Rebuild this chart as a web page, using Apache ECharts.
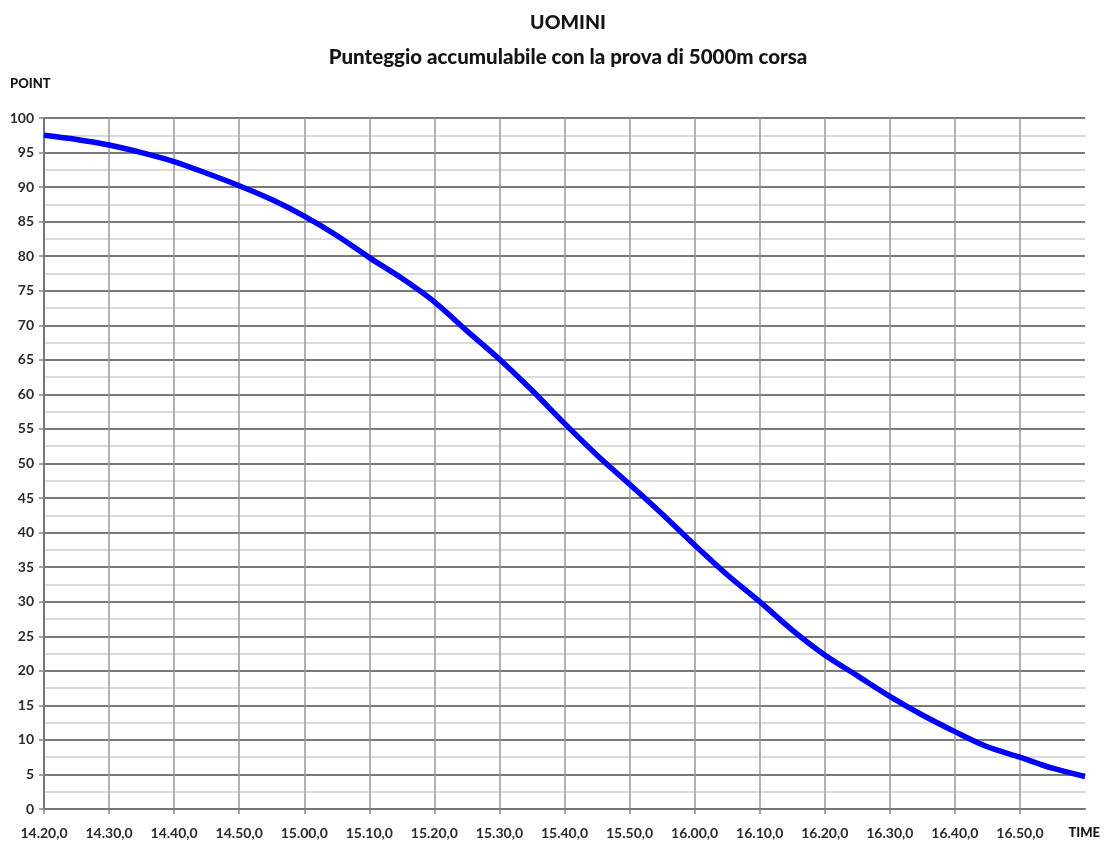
<!DOCTYPE html>
<html>
<head>
<meta charset="utf-8">
<script src="https://cdn.jsdelivr.net/npm/echarts@6/dist/echarts.min.js"></script>
<style>
html,body{margin:0;padding:0;background:#fff;}
#chart{width:1105px;height:847px;}
</style>
</head>
<body>
<div id="chart"></div>
<script>
// Time categories (5-second steps, min.sec,tenths)
var times = [
  "14.20,0","14.25,0","14.30,0","14.35,0","14.40,0","14.45,0","14.50,0","14.55,0",
  "15.00,0","15.05,0","15.10,0","15.15,0","15.20,0","15.25,0","15.30,0","15.35,0",
  "15.40,0","15.45,0","15.50,0","15.55,0","16.00,0","16.05,0","16.10,0","16.15,0",
  "16.20,0","16.25,0","16.30,0","16.35,0","16.40,0","16.45,0","16.50,0","16.55,0",
  "17.00,0"
];
// Points
var points = [
  97.5, 96.9, 96.1, 95.0, 93.7, 92.0, 90.2, 88.2,
  85.8, 83.0, 79.8, 76.8, 73.4, 69.2, 65.1, 60.6,
  55.8, 51.2, 47.0, 42.7, 38.2, 33.9, 30.0, 25.9,
  22.3, 19.3, 16.3, 13.6, 11.2, 9.0, 7.5, 5.9,
  4.7
];
var titleText = "UOMINI";
var subtitleText = "Punteggio accumulabile con la prova di 5000m corsa";

var FONT = "Lato, 'Open Sans', sans-serif";
var lastIdx = times.length - 1;
function shown(i){ return i % 2 === 0 && i < lastIdx; }

var chart = echarts.init(document.getElementById('chart'));
chart.setOption({
  backgroundColor: '#ffffff',
  animation: false,
  title: [
    {text: titleText, left: 563, textAlign: 'center', top: 8,
     textStyle: {fontFamily: FONT, fontSize: 19.5, fontWeight: 900, color: '#141414'}},
    {text: subtitleText, left: 563, textAlign: 'center', top: 42,
     textStyle: {fontFamily: FONT, fontSize: 20.5, fontWeight: 900, color: '#141414'}}
  ],
  grid: {left: 44, right: 20, top: 118, bottom: 38, containLabel: false},
  xAxis: {
    type: 'category',
    data: times,
    boundaryGap: false,
    name: 'TIME',
    nameLocation: 'end',
    nameGap: 15,
    nameTextStyle: {fontFamily: FONT, fontSize: 13, fontWeight: 900, color: '#141414',
      align: 'right', verticalAlign: 'top', padding: [17, 0, 0, 0]},
    axisLine: {show: true, lineStyle: {color: '#777', width: 2}},
    axisTick: {show: true, interval: function(i){ return shown(i); }, length: 5, lineStyle: {color: '#888', width: 1.5}},
    axisLabel: {interval: function(i){ return shown(i); }, margin: 17,
      fontFamily: FONT, fontSize: 14, fontWeight: 'bold', color: '#2a2a2a'},
    splitLine: {show: true, interval: function(i){ return shown(i); }, lineStyle: {color: '#999', width: 1.5}}
  },
  yAxis: {
    type: 'value',
    min: 0, max: 100, interval: 5,
    name: 'POINT',
    nameLocation: 'end',
    nameGap: 28,
    nameTextStyle: {fontFamily: FONT, fontSize: 13, fontWeight: 900, color: '#141414',
      align: 'left', padding: [0, 0, 0, -34]},
    axisLine: {show: true, lineStyle: {color: '#777', width: 2}},
    axisTick: {show: true, length: 5, lineStyle: {color: '#888', width: 1.5}},
    axisLabel: {margin: 10, fontFamily: FONT, fontSize: 14, fontWeight: 'bold', color: '#2a2a2a'},
    splitLine: {show: true, lineStyle: {color: '#7a7a7a', width: 1.8}},
    minorTick: {show: false, splitNumber: 2},
    minorSplitLine: {show: true, lineStyle: {color: '#cfcfcf', width: 1.5}}
  },
  series: [{
    type: 'line',
    data: points,
    smooth: 0.3,
    symbol: 'none',
    lineStyle: {color: '#0000ff', width: 5.5},
    z: 5
  }]
});
</script>
</body>
</html>
